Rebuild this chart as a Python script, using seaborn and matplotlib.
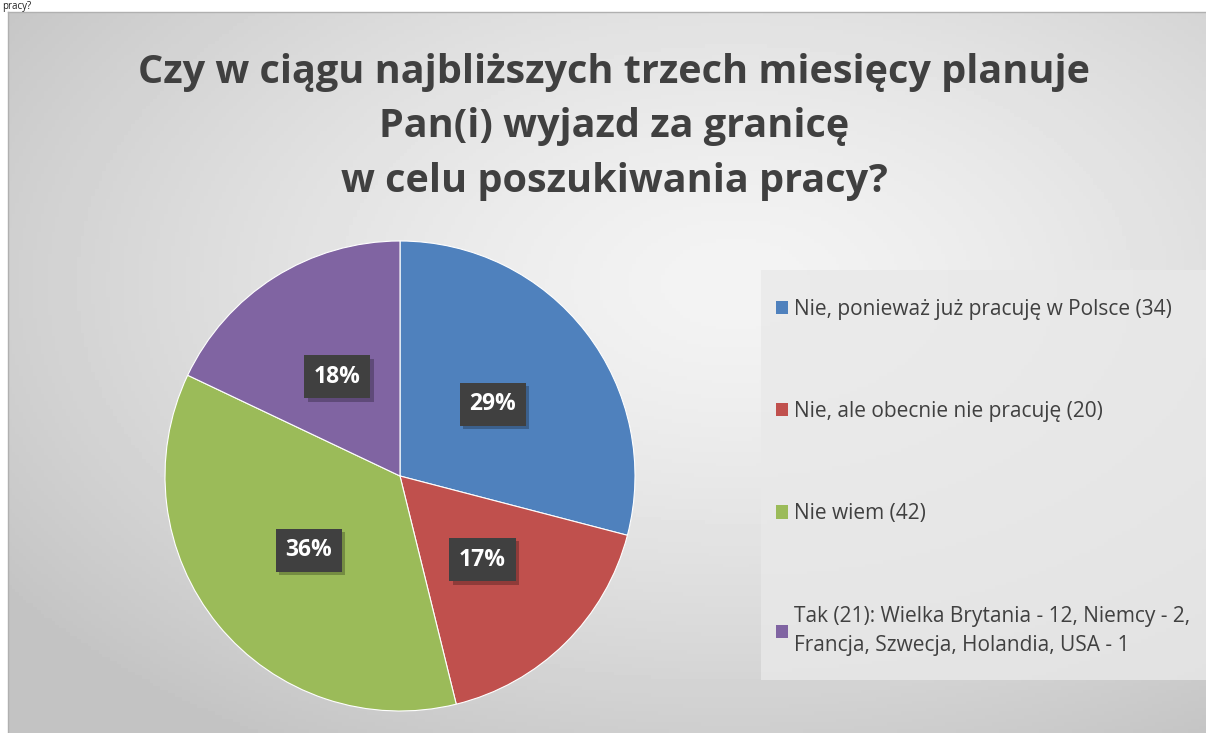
import numpy as np
import matplotlib
matplotlib.use("Agg")
import matplotlib.pyplot as plt
import matplotlib.patheffects as pe
import seaborn as sns

# Data
labels = [
    "Nie, ponieważ już pracuję w Polsce (34)",
    "Nie, ale obecnie nie pracuję (20)",
    "Nie wiem (42)",
    "Tak (21): Wielka Brytania - 12, Niemcy - 2,\nFrancja, Szwecja, Holandia, USA - 1",
]
counts = [34, 20, 42, 21]
colors = ["#4F81BD", "#C0504D", "#9BBB59", "#8064A2"]
title = "Czy w ciągu najbliższych trzech miesięcy planuje\nPan(i) wyjazd za granicę\nw celu poszukiwania pracy?"

sns.set_style("white")
plt.rcParams["font.family"] = ["Open Sans", "DejaVu Sans"]

W, H = 1206, 733
fig = plt.figure(figsize=(W / 100, H / 100), dpi=100)
fig.patch.set_facecolor("white")

# leftover text from the page above the chart
fig.text(2 / W, 1 - 1 / H, "pracy?", fontsize=7, color="#222222", va="top", ha="left")

# background with radial gradient
bg = fig.add_axes([8 / W, 0, 1 - 8 / W, (H - 12) / H])
yy, xx = np.mgrid[0:200, 0:330]
cx, cy = 200, 75
d = np.sqrt(((xx - cx) / 330) ** 2 + ((yy - cy) / 200) ** 2)
grad = 0.955 - 0.19 * np.clip(d / 0.75, 0, 1) ** 1.4
bg.imshow(grad, cmap="gray", vmin=0, vmax=1, aspect="auto", extent=[0, 1, 0, 1], origin="upper")
bg.set_xlim(0, 1)
bg.set_ylim(0, 1)
bg.set_xticks([])
bg.set_yticks([])
for s in ["top", "left"]:
    bg.spines[s].set_color("#b0b0b0")
    bg.spines[s].set_linewidth(1)
for s in ["bottom", "right"]:
    bg.spines[s].set_visible(False)

fig.text(614 / W, 1 - 127 / H, title, ha="center", va="center", fontsize=28.5,
         fontweight="bold", color="#404040", linespacing=1.52)

# pie
r = 235
ax = fig.add_axes([(400 - r) / W, (H - 476 - r) / H, 2 * r / W, 2 * r / H])
wedges, texts, autotexts = ax.pie(
    counts, colors=colors, startangle=90, counterclock=False,
    autopct="%1.0f%%", pctdistance=0.5,
    wedgeprops=dict(edgecolor="white", linewidth=0.8),
    textprops=dict(color="white", fontsize=16.5, fontweight="bold"),
)
for t in autotexts:
    t.set_bbox(dict(boxstyle="square,pad=0.42", facecolor="#404040", edgecolor="none",
                    path_effects=[pe.withSimplePatchShadow(offset=(2.5, -2.5), shadow_rgbFace="black", alpha=0.25),
                                  pe.Normal()]))
ax.set_xlim(-1, 1)
ax.set_ylim(-1, 1)
ax.set_aspect("auto")
ax.axis("off")

# legend panel
lx0, ly0, lx1, ly1 = 761, 270, 1206, 680
leg_ax = fig.add_axes([lx0 / W, (H - ly1) / H, (lx1 - lx0) / W, (ly1 - ly0) / H])
leg_ax.set_facecolor("#e9e9e9")
leg_ax.patch.set_alpha(0.8)
leg_ax.set_xticks([])
leg_ax.set_yticks([])
for s in leg_ax.spines.values():
    s.set_visible(False)

leg = leg_ax.legend(wedges, labels, loc="upper left", bbox_to_anchor=(0.0, 0.965),
                    frameon=False, fontsize=15, labelspacing=3.9,
                    handlelength=0.6, handleheight=0.6, handletextpad=0.3,
                    borderaxespad=0.3)
for t in leg.get_texts():
    t.set_color("#404040")
    t.set_linespacing(1.55)
for h in leg.legend_handles:
    h.set_edgecolor("none")

fig.savefig("out.png", dpi=100)
